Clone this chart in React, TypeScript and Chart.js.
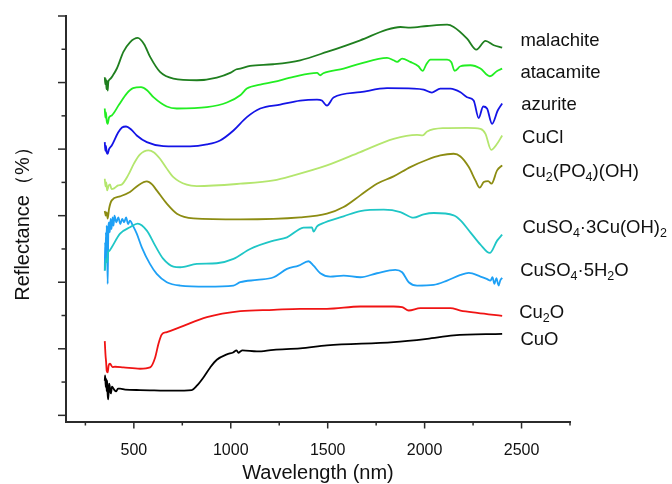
import React, { useEffect, useRef } from "react";
import { Chart, registerables } from "chart.js";

Chart.register(...registerables);

// ---------- data ----------
const seriesNames = [
  "malachite",
  "atacamite",
  "azurite",
  "CuCl",
  "Cu₂(PO₄)(OH)",
  "CuSO₄·3Cu(OH)₂",
  "CuSO₄·5H₂O",
  "Cu₂O",
  "CuO",
];

const malachiteNm = [350,353,356,359,362,365,368,372,380,390,413,446,480,520,553,584,635,704,825,928,1000,1030,1049,1100,1219,1358,1496,1668,1806,1875,1926,2013,2116,2150,2219,2267,2314,2357,2400];
const malachiteR = [10.16,9.95,10.1,9.8,10.05,9.76,10.0,10.07,10.12,10.2,10.43,10.92,11.21,11.34,11.15,10.77,10.32,10.12,10.07,10.15,10.3,10.4,10.42,10.5,10.55,10.67,10.92,11.27,11.59,11.67,11.65,11.7,11.74,11.67,11.32,10.99,11.25,11.12,11.05];

const atacamiteNm = [350,353,356,360,365,372,386,424,463,496,537,568,601,670,722,877,980,1049,1083,1152,1221,1324,1445,1462,1477,1582,1668,1806,1840,1858,1884,1926,1968,1990,2009,2030,2116,2138,2155,2185,2236,2288,2336,2374,2400];
const atacamiteR = [9.22,8.95,9.1,8.85,8.76,8.95,9.01,9.34,9.67,9.83,9.86,9.77,9.56,9.28,9.22,9.26,9.4,9.62,9.82,9.94,10.02,10.17,10.29,10.22,10.28,10.42,10.57,10.74,10.67,10.62,10.72,10.62,10.49,10.35,10.55,10.69,10.69,10.61,10.35,10.49,10.52,10.42,10.19,10.35,10.42];

const azuriteNm = [350,353,356,360,365,372,386,419,439,460,486,515,567,652,790,877,945,1014,1083,1152,1255,1358,1445,1470,1496,1530,1668,1806,1943,1995,2038,2081,2133,2185,2219,2253,2279,2302,2322,2348,2377,2400];
const azuriteR = [8.21,7.95,8.1,7.9,7.86,8.0,8.11,8.5,8.65,8.68,8.59,8.41,8.21,8.09,8.08,8.14,8.26,8.56,8.96,9.22,9.34,9.46,9.49,9.46,9.31,9.55,9.71,9.83,9.82,9.79,9.7,9.82,9.82,9.71,9.56,9.46,8.93,9.28,9.22,8.76,9.16,9.37];

const cuclNm = [350,354,358,362,370,377,385,398,419,438,470,501,532,575,604,635,666,704,773,825,1049,1221,1324,1496,1668,1840,1961,1990,2013,2098,2219,2288,2314,2343,2374,2400];
const cuclR = [7.11,6.88,7.0,6.76,6.9,6.94,6.8,6.82,6.91,6.94,7.21,7.57,7.84,7.96,7.9,7.71,7.45,7.16,6.93,6.89,6.96,7.06,7.21,7.51,7.91,8.31,8.43,8.41,8.53,8.63,8.64,8.61,8.46,7.98,8.16,8.41];

const phosphateNm = [350,355,360,365,372,386,429,480,522,567,594,618,670,722,807,1049,1358,1496,1582,1668,1754,1840,1926,2013,2081,2150,2185,2228,2262,2284,2305,2328,2345,2374,2400];
const phosphateR = [6.14,6.0,6.1,5.91,6.2,6.46,6.58,6.71,6.91,7.03,6.94,6.76,6.36,6.06,5.92,5.89,5.95,6.06,6.26,6.61,6.96,7.18,7.46,7.68,7.81,7.86,7.78,7.46,7.06,6.84,7.01,7.04,6.96,7.36,7.51];

const brochantiteNm = [350,357,362,367,375,386,429,480,520,567,610,652,704,739,825,928,1014,1100,1221,1290,1375,1419,1427,1445,1470,1582,1668,1789,1875,1943,1995,2047,2150,2185,2236,2288,2336,2374,2400];
const brochantiteR = [4.35,4.71,4.6,4.89,4.95,5.05,5.46,5.65,5.76,5.55,5.1,4.7,4.47,4.45,4.55,4.57,4.7,5.0,5.25,5.35,5.64,5.65,5.52,5.68,5.76,5.98,6.14,6.18,6.11,5.94,6.04,6.08,6.01,5.86,5.5,5.13,4.88,5.25,5.43];

const chalcanthiteNm = [350,352,354,356,358,360,362,365,368,372,376,380,385,390,395,400,410,420,430,440,450,460,470,480,495,515,541,583,618,670,739,877,1014,1049,1135,1221,1290,1350,1401,1427,1462,1513,1582,1668,1754,1849,1884,1918,1961,2047,2116,2185,2228,2288,2320,2340,2350,2360,2370,2382,2390,2400];
const chalcanthiteR = [4.35,5.2,4.6,5.5,4.9,5.7,5.2,3.95,5.4,5.8,5.5,5.9,5.6,5.95,5.7,6.0,5.8,5.95,5.75,5.9,5.8,5.95,5.75,5.85,5.7,5.46,5.05,4.55,4.25,4.0,3.9,3.87,3.9,4.0,4.07,4.15,4.4,4.5,4.63,4.5,4.27,4.17,4.2,4.15,4.27,4.37,4.3,4.0,3.9,3.92,4.05,4.22,4.28,4.17,4.1,4.05,4.15,3.95,4.12,3.9,4.05,4.13];

const cu2oNm = [350,352,354,357,360,365,370,377,390,403,446,532,584,610,627,644,670,739,877,1049,1221,1358,1496,1668,1840,1884,1918,1978,2133,2185,2271,2400];
const cu2oR = [2.23,2.0,1.8,1.6,1.34,1.29,1.5,1.55,1.45,1.46,1.44,1.4,1.44,1.74,2.15,2.43,2.5,2.65,2.95,3.13,3.17,3.2,3.2,3.27,3.27,3.25,3.15,3.22,3.22,3.15,3.08,2.99];

const cuoNm = [350,352,355,357,360,362,365,368,372,375,379,382,387,393,400,408,418,429,455,532,704,799,825,859,894,928,980,1012,1030,1040,1049,1060,1135,1221,1358,1496,1840,2013,2150,2400];
const cuoR = [1.04,1.2,0.85,1.1,0.72,1.05,0.62,0.48,0.95,0.9,0.7,0.66,0.86,0.82,0.76,0.72,0.8,0.8,0.77,0.76,0.74,0.76,0.89,1.14,1.44,1.67,1.83,1.89,1.95,1.88,1.92,1.95,1.92,1.97,2.01,2.1,2.2,2.3,2.4,2.45];

// label anchors (data units)
const labelNm = [2494, 2494, 2498, 2503, 2503, 2505, 2493, 2488, 2494];
const labelR = [11.26, 10.29, 9.32, 8.33, 7.32, 5.63, 4.34, 3.07, 2.26];

// axis ticks
const xMajorTicks = [500, 1000, 1500, 2000, 2500];
const xMinorTicks = [250, 750, 1250, 1750, 2250, 2750];
const yMajorTicks = [0, 2, 4, 6, 8, 10, 12];
const yMinorTicks = [1, 3, 5, 7, 9, 11];

// ---------- styles ----------
const seriesColors = ["#1f7f1f", "#22ee22", "#1414e6", "#b4e66e", "#8c8c12", "#1fc6c6", "#1ea0f5", "#f01414", "#000000"];
const FONT = '"Liberation Sans", Arial, sans-serif';
const AXIS_COLOR = "#2b2b2b";
const TEXT_COLOR = "#111111";

const SUBS = "₀₁₂₃₄₅₆₇₈₉";

function splitSubs(name: string) {
  const parts: { t: string; sub: boolean }[] = [];
  for (const ch of name) {
    const idx = SUBS.indexOf(ch);
    const sub = idx >= 0;
    const c = sub ? String(idx) : ch;
    const last = parts[parts.length - 1];
    if (last && last.sub === sub) last.t += c;
    else parts.push({ t: c, sub });
  }
  return parts;
}

const ticksPlugin = {
  id: "customTicks",
  afterDraw(chart: any) {
    const ctx = chart.ctx;
    const xs = chart.scales.x;
    const ys = chart.scales.y;
    const { left, bottom } = chart.chartArea;
    ctx.save();
    ctx.strokeStyle = AXIS_COLOR;
    ctx.lineWidth = 1.5;
    const line = (x1: number, y1: number, x2: number, y2: number) => {
      ctx.beginPath();
      ctx.moveTo(x1, y1);
      ctx.lineTo(x2, y2);
      ctx.stroke();
    };
    xMajorTicks.forEach((v) => {
      const p = xs.getPixelForValue(v);
      line(p, bottom, p, bottom + 6.5);
    });
    xMinorTicks.forEach((v) => {
      const p = xs.getPixelForValue(v);
      line(p, bottom, p, bottom + 3.5);
    });
    yMajorTicks.forEach((v) => {
      const p = ys.getPixelForValue(v);
      line(left - 8, p, left, p);
    });
    yMinorTicks.forEach((v) => {
      const p = ys.getPixelForValue(v);
      line(left - 4.5, p, left, p);
    });
    ctx.restore();
  },
};

const labelsPlugin = {
  id: "seriesLabels",
  afterDatasetsDraw(chart: any) {
    const ctx = chart.ctx;
    const xs = chart.scales.x;
    const ys = chart.scales.y;
    ctx.save();
    ctx.fillStyle = TEXT_COLOR;
    ctx.textBaseline = "middle";
    ctx.textAlign = "left";
    seriesNames.forEach((name, i) => {
      let x = xs.getPixelForValue(labelNm[i]);
      const y = ys.getPixelForValue(labelR[i]);
      splitSubs(name).forEach((part) => {
        if (part.sub) {
          ctx.font = `12.5px ${FONT}`;
          ctx.fillText(part.t, x, y + 5.5);
        } else {
          ctx.font = `18.5px ${FONT}`;
          ctx.fillText(part.t, x, y);
        }
        x += ctx.measureText(part.t).width;
      });
    });
    ctx.restore();
  },
};

const seriesNm = [malachiteNm, atacamiteNm, azuriteNm, cuclNm, phosphateNm, brochantiteNm, chalcanthiteNm, cu2oNm, cuoNm];
const seriesR = [malachiteR, atacamiteR, azuriteR, cuclR, phosphateR, brochantiteR, chalcanthiteR, cu2oR, cuoR];

export default function App() {
  const canvasRef = useRef<HTMLCanvasElement | null>(null);

  useEffect(() => {
    if (!canvasRef.current) return;
    const datasets = seriesNames.map((name, i) => ({
      label: name,
      data: seriesNm[i].map((nm, j) => ({ x: nm, y: seriesR[i][j] })),
      borderColor: seriesColors[i],
      backgroundColor: seriesColors[i],
      borderWidth: 1.8,
      pointRadius: 0,
      cubicInterpolationMode: "monotone",
      fill: false,
    }));

    const chart = new Chart(canvasRef.current, {
      type: "line",
      data: { datasets },
      plugins: [ticksPlugin, labelsPlugin],
      options: {
        animation: false,
        responsive: false,
        maintainAspectRatio: false,
        layout: { padding: { left: 0, top: 16, right: 102, bottom: 0 } },
        plugins: {
          legend: { display: false },
          tooltip: { enabled: false },
        },
        scales: {
          x: {
            type: "linear",
            min: 150,
            max: 2750,
            afterBuildTicks: (scale: any) => {
              scale.ticks = xMajorTicks.map((v) => ({ value: v }));
            },
            afterFit: (scale: any) => {
              scale.height = 62;
            },
            grid: { display: false },
            border: { display: true, color: AXIS_COLOR, width: 2 },
            ticks: {
              color: TEXT_COLOR,
              font: { family: FONT, size: 16 },
              padding: 11,
              maxRotation: 0,
              autoSkip: false,
              callback: (v: any) => String(v),
            },
            title: {
              display: true,
              text: "Wavelength (nm)",
              color: TEXT_COLOR,
              font: { family: FONT, size: 20, lineHeight: 1 },
              padding: { top: 0, bottom: 1 },
            },
          },
          y: {
            type: "linear",
            min: -0.2,
            max: 12,
            afterFit: (scale: any) => {
              scale.width = 66;
            },
            grid: { display: false },
            border: { display: true, color: AXIS_COLOR, width: 2 },
            ticks: { display: false },
            title: {
              display: true,
              text: "Reflectance（%）",
              color: TEXT_COLOR,
              font: { family: FONT, size: 20, lineHeight: 1 },
              padding: { top: 13.5, bottom: 0 },
            },
          },
        },
      } as any,
    });
    return () => chart.destroy();
  }, []);

  return (
    <div style={{ position: "absolute", left: 0, top: 0, width: 672, height: 484, background: "#ffffff" }}>
      <canvas ref={canvasRef} width={672} height={484} style={{ display: "block" }} />
    </div>
  );
}
